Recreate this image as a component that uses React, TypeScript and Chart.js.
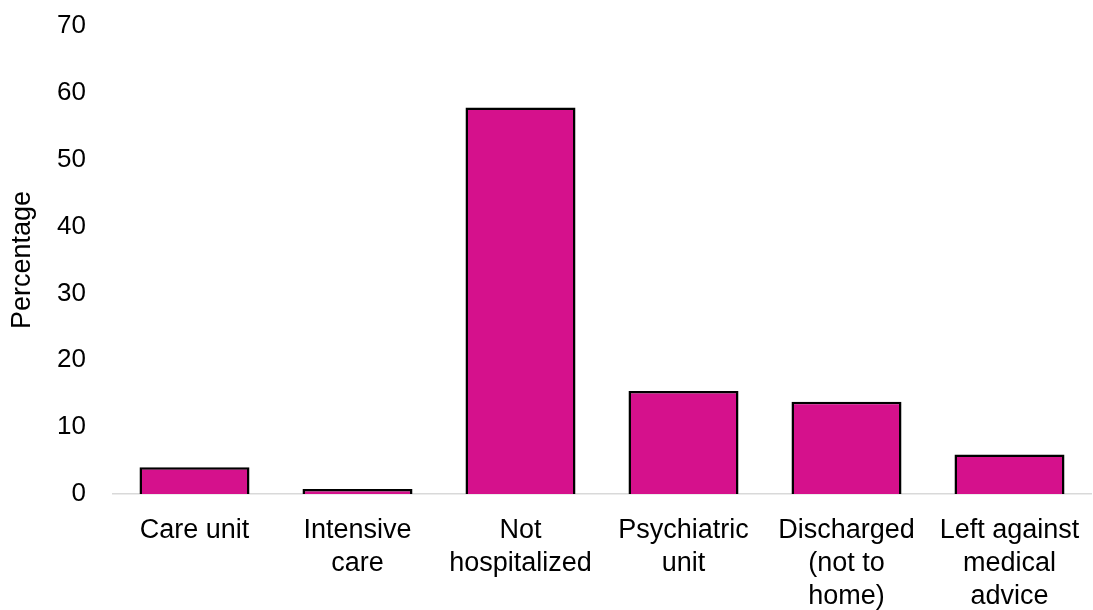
import React, { useEffect, useRef } from "react";
import { Chart, registerables } from "chart.js";

Chart.register(...registerables);

const categories: string[][] = [
  ["Care unit"],
  ["Intensive", "care"],
  ["Not", "hospitalized"],
  ["Psychiatric", "unit"],
  ["Discharged", "(not to", "home)"],
  ["Left against", "medical", "advice"],
];

const percentages: number[] = [4.0, 0.75, 57.8, 15.4, 13.8, 5.9];

const yTicks: number[] = [0, 10, 20, 30, 40, 50, 60, 70];

const FONT = "'Liberation Sans', Arial, sans-serif";

// Keep the plot area fixed: drop the extra margins Chart.js reserves for overhanging labels.
const clearPadding = (scale: any) => {
  scale.paddingTop = 0;
  scale.paddingBottom = 0;
  scale.paddingLeft = 0;
  scale.paddingRight = 0;
};

export default function App() {
  const canvasRef = useRef<HTMLCanvasElement | null>(null);

  useEffect(() => {
    if (!canvasRef.current) return;
    const chart = new Chart(canvasRef.current, {
      type: "bar",
      data: {
        labels: categories,
        datasets: [
          {
            label: "Percentage",
            data: percentages,
            backgroundColor: "#D5118C",
            borderColor: "#000000",
            borderWidth: 2.5,
            categoryPercentage: 1,
            barPercentage: 0.675,
          },
        ],
      },
      options: {
        animation: false,
        responsive: false,
        maintainAspectRatio: false,
        layout: { autoPadding: false, padding: { top: 26, right: 2, left: 0, bottom: 0 } },
        plugins: {
          legend: { display: false },
          tooltip: { enabled: false },
        },
        scales: {
          x: {
            grid: { display: false, drawTicks: false },
            border: { display: true, color: "#D9D9D9", width: 1.5 },
            ticks: {
              color: "#000000",
              font: { family: FONT, size: 27, lineHeight: 1.22 },
              padding: 20,
              maxRotation: 0,
              autoSkip: false,
            },
            afterFit: (scale: any) => {
              scale.height = 116;
              clearPadding(scale);
            },
          },
          y: {
            min: 0,
            max: 70,
            afterBuildTicks: (scale: any) => {
              scale.ticks = yTicks.map((v) => ({ value: v }));
            },
            grid: { display: false, drawTicks: false },
            border: { display: false },
            ticks: {
              color: "#000000",
              font: { family: FONT, size: 26 },
              padding: 27,
            },
            title: {
              display: true,
              text: "Percentage",
              color: "#000000",
              font: { family: FONT, size: 27 },
              padding: { top: 6, bottom: 0 },
            },
            afterFit: (scale: any) => {
              scale.width = 113;
              clearPadding(scale);
            },
          },
        },
      },
    });
    return () => chart.destroy();
  }, []);

  return (
    <div style={{ position: "fixed", left: 0, top: 0, width: 1093, height: 610, background: "#ffffff" }}>
      <canvas ref={canvasRef} width={1093} height={610} style={{ display: "block" }} />
    </div>
  );
}
